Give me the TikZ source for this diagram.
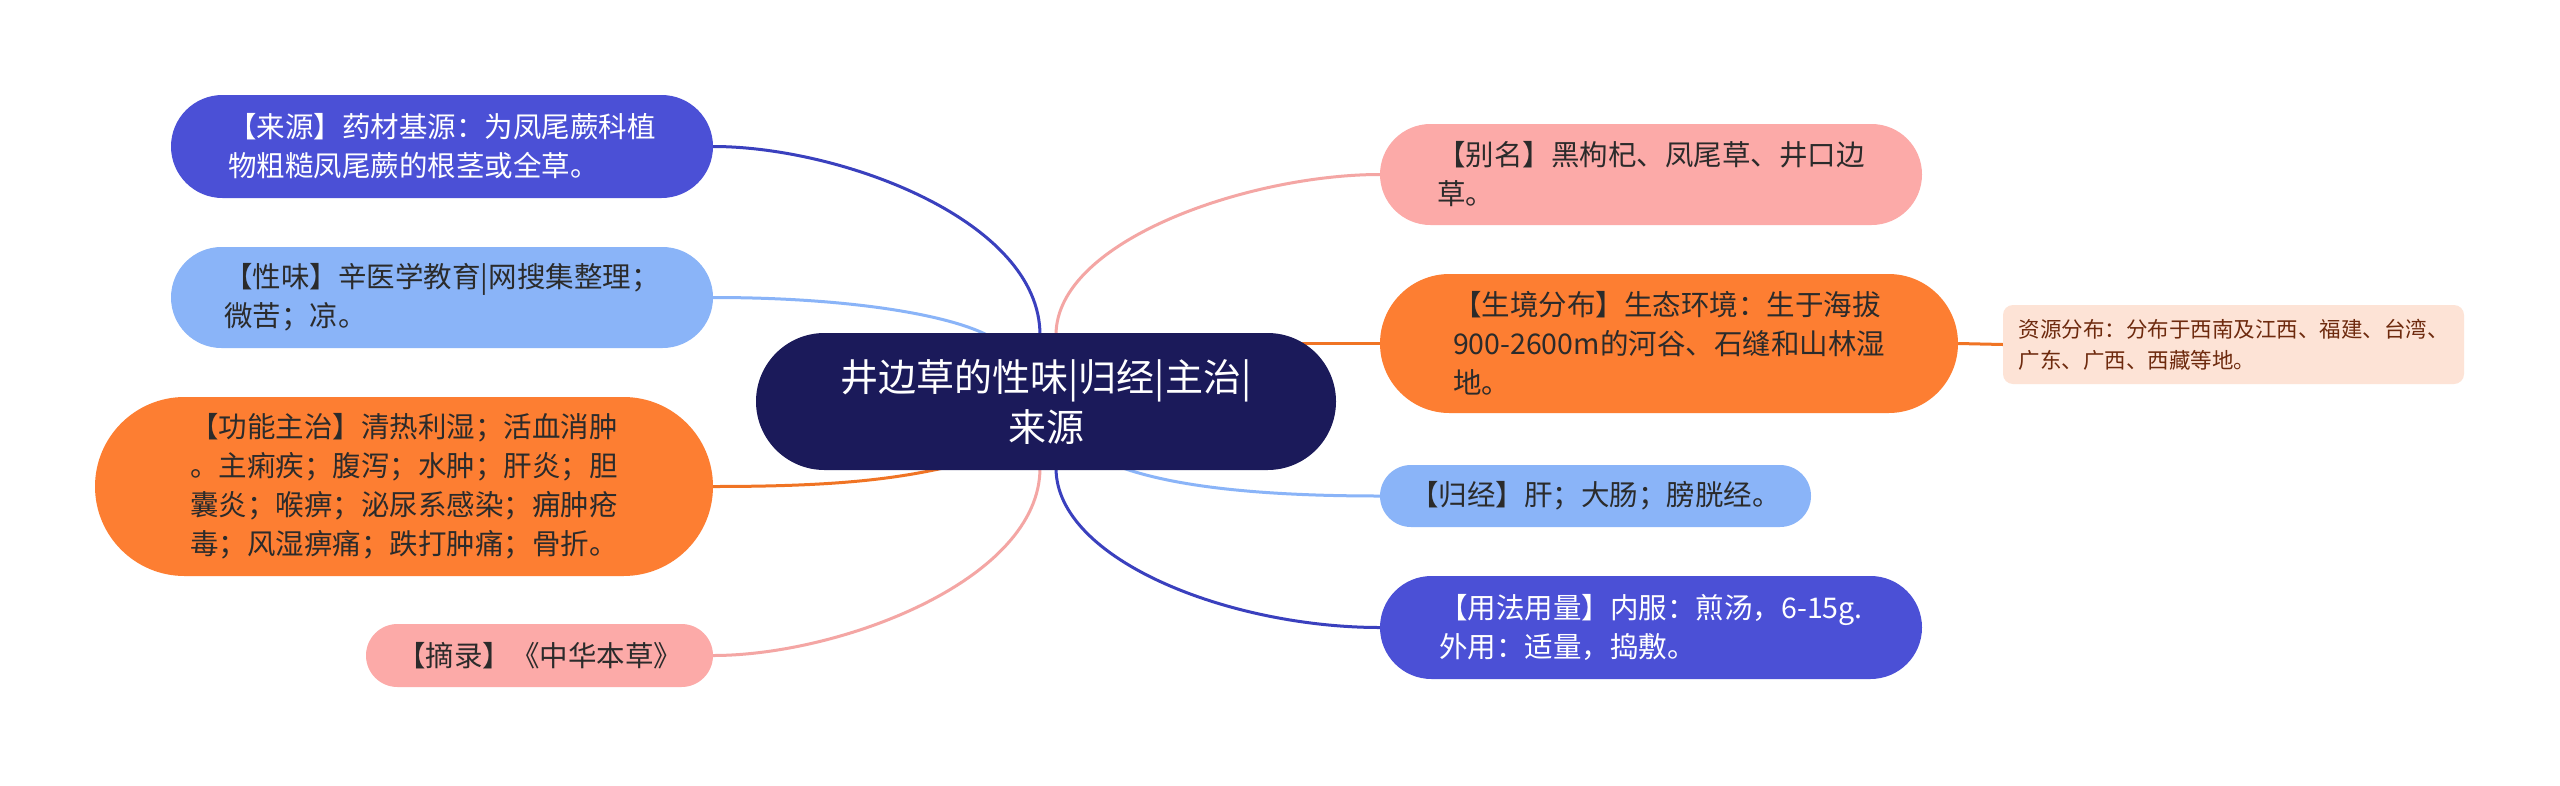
\documentclass[tikz,border=0pt]{standalone}
\usepackage{fontspec}
\setmainfont{Noto Sans CJK SC}
\usetikzlibrary{backgrounds}
\definecolor{cBlue}{HTML}{4B50D6}
\definecolor{cLBlue}{HTML}{8AB4F8}
\definecolor{cOrange}{HTML}{FD7E32}
\definecolor{cPink}{HTML}{FCAAA8}
\definecolor{cNavy}{HTML}{1B1A5A}
\definecolor{cPeach}{HTML}{FDE3D6}
\definecolor{cBrown}{HTML}{6E2A0E}
\definecolor{cText}{HTML}{2B2B2B}
\definecolor{lBlue}{HTML}{3A40BE}
\definecolor{lLBlue}{HTML}{8AB4F8}
\definecolor{lOrange}{HTML}{F07424}
\definecolor{lPink}{HTML}{F4A6A4}
\begin{document}
\begin{tikzpicture}[x=1pt,y=-1pt,
  pill/.style={inner sep=0pt, align=left, text=cText, font=\fontsize{28.5}{39}\selectfont},
  blueN/.style={pill, fill=cBlue, text=white},
  lblueN/.style={pill, fill=cLBlue},
  orangeN/.style={pill, fill=cOrange},
  pinkN/.style={pill, fill=cPink},
  centerN/.style={inner sep=0pt, align=center, fill=cNavy, text=white, font=\fontsize{38}{50}\selectfont},
  subN/.style={inner sep=0pt, align=left, fill=cPeach, text=cBrown, rounded corners=10pt, font=\fontsize{21.5}{31}\selectfont},
  conn/.style={line width=3pt},
]
\useasboundingbox (0,0) rectangle (2560,785);

% central topic
\node[centerN, minimum width=580pt, minimum height=137pt, rounded corners=68.5pt] (c) at (1046,401.5) {井边草的性味|归经|主治|\\来源};

% left branches
\node[blueN, minimum width=542pt, minimum height=103pt, rounded corners=51.5pt] (n1) at (442,146.5) {【来源】药材基源：为凤尾蕨科植\\物粗糙凤尾蕨的根茎或全草。};
\node[lblueN, minimum width=542pt, minimum height=101pt, rounded corners=50.5pt] (n2) at (442,297.5) {【性味】辛医学教育|网搜集整理；\\微苦；凉。};
\node[orangeN, minimum width=618pt, minimum height=179pt, rounded corners=89.5pt] (n3) at (404,486.5) {【功能主治】清热利湿；活血消肿\\。主痢疾；腹泻；水肿；肝炎；胆\\囊炎；喉痹；泌尿系感染；痈肿疮\\毒；风湿痹痛；跌打肿痛；骨折。};
\node[pinkN, minimum width=347pt, minimum height=63pt, rounded corners=31.5pt] (n4) at (539.5,655.5) {【摘录】《中华本草》};

% right branches
\node[pinkN, minimum width=542pt, minimum height=101pt, rounded corners=50.5pt] (n5) at (1651,174.5) {【别名】黑枸杞、凤尾草、井口边\\草。};
\node[orangeN, minimum width=578pt, minimum height=139pt, rounded corners=69.5pt] (n6) at (1669,343.5) {【生境分布】生态环境：生于海拔\\900-2600m的河谷、石缝和山林湿\\地。};
\node[subN, minimum width=461pt, minimum height=79pt] (n7) at (2233.5,344.5) {资源分布：分布于西南及江西、福建、台湾、\\广东、广西、西藏等地。};
\node[lblueN, minimum width=431pt, minimum height=62pt, rounded corners=31pt] (n8) at (1595.5,496) {【归经】肝；大肠；膀胱经。};
\node[blueN, minimum width=542pt, minimum height=103pt, rounded corners=51.5pt] (n9) at (1651,627.5) {【用法用量】内服：煎汤，6-15g.\\外用：适量，捣敷。};

% attachment points on the central topic
\coordinate (cT1) at (1040,335);
\coordinate (cT2) at (989,336);
\coordinate (cB3) at (948,467);
\coordinate (cB4) at (1040,468);
\coordinate (cT5) at (1056,335);
\coordinate (cR6) at (1300,343.5);
\coordinate (cB8) at (1120,467);
\coordinate (cB9) at (1056,468);

\begin{scope}[on background layer]
\fill[white] (0,0) rectangle (2560,785);
\draw[conn, lBlue] (n1.east) .. controls (840,146.5) and (1040,220) .. (cT1);
\draw[conn, lLBlue] (n2.east) .. controls (850,297.5) and (950,315) .. (cT2);
\draw[conn, lOrange] (n3.east) .. controls (830,486.5) and (890,480) .. (cB3);
\draw[conn, lPink] (n4.east) .. controls (840,655.5) and (1040,580) .. (cB4);
\draw[conn, lPink] (n5.west) .. controls (1250,174.5) and (1056,240) .. (cT5);
\draw[conn, lOrange] (n6.west) -- (cR6);
\draw[conn, lLBlue] (n8.west) .. controls (1250,496) and (1170,485) .. (cB8);
\draw[conn, lBlue] (n9.west) .. controls (1230,627.5) and (1056,560) .. (cB9);
\draw[conn, lOrange] (n6.east) -- (n7.west);
\end{scope}
\end{tikzpicture}
\end{document}
